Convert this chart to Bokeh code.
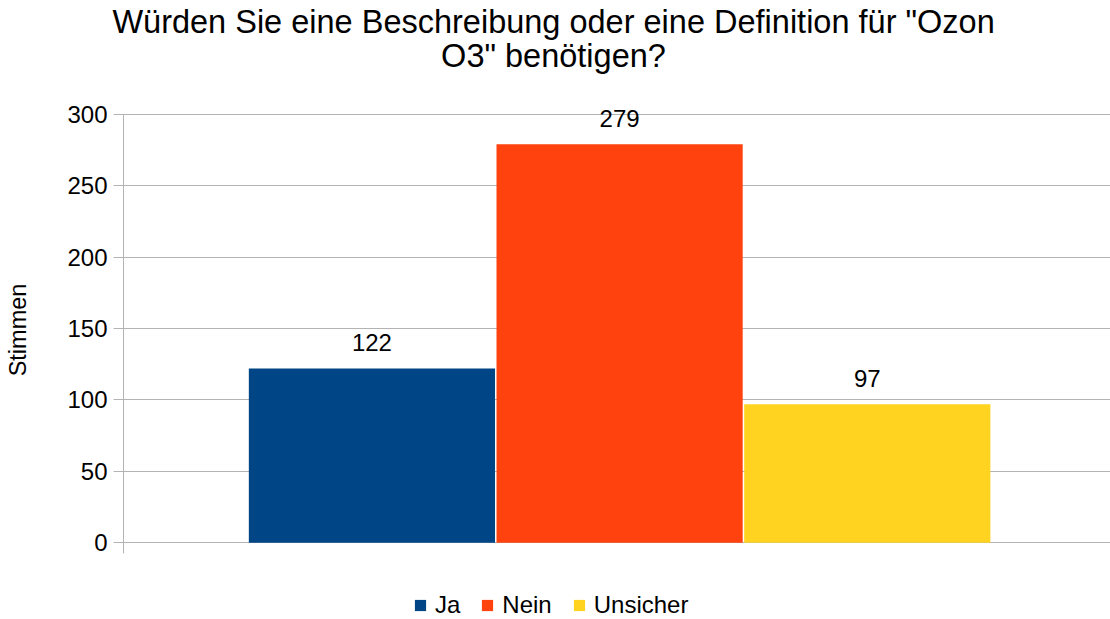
from bokeh.plotting import figure
from bokeh.models import (Range1d, FixedTicker, ColumnDataSource, LabelSet, Label, Title,
                          Legend, LegendItem)
from bokeh.core.properties import value
from bokeh.embed import file_html
from bokeh.resources import INLINE

# ---- data ----
title_lines = ['Würden Sie eine Beschreibung oder eine Definition für "Ozon', 'O3" benötigen?']
categories = ["Ja", "Nein", "Unsicher"]
votes = [122, 279, 97]
colors = ["#004586", "#ff420e", "#ffd320"]
y_ticks = [0, 50, 100, 150, 200, 250, 300]
y_label = "Stimmen"

FONT = "Liberation Sans"
GRID = "#b3b3b3"
Y_AXIS_MIN, Y_AXIS_MAX = -7.69, 300

W, H = 1110, 619
p = figure(width=W, height=H, output_backend="svg", toolbar_location=None,
           x_range=Range1d(-1.003, 2.982), y_range=Range1d(-53.85, 351.75),
           x_axis_location=None,
           min_border_left=123, min_border_right=0, min_border_top=39, min_border_bottom=0)
p.outline_line_color = None
p.background_fill_color = "white"
p.border_fill_color = "white"

src = ColumnDataSource(dict(
    x=list(range(len(categories))),
    top=votes,
    color=colors,
    cat=categories,
    label=[str(v) for v in votes],
))

r = p.vbar(x="x", top="top", bottom=0, width=0.994, source=src,
           fill_color="color", line_color=None)

# grid / axis
p.xgrid.visible = False
p.ygrid.ticker = FixedTicker(ticks=y_ticks)
p.ygrid.grid_line_color = GRID
p.ygrid.grid_line_width = 1

ax = p.yaxis[0]
ax.bounds = (Y_AXIS_MIN, Y_AXIS_MAX)
ax.ticker = FixedTicker(ticks=y_ticks)
ax.axis_line_color = GRID
ax.major_tick_line_color = GRID
ax.major_tick_out = 10
ax.major_tick_in = 0
ax.minor_tick_line_color = None
ax.major_label_text_font = FONT
ax.major_label_text_font_size = "24px"
ax.major_label_text_color = "#000000"
ax.major_label_standoff = 6
ax.axis_label = y_label
ax.axis_label_text_font = FONT
ax.axis_label_text_font_size = "23.5px"
ax.axis_label_text_font_style = "normal"
ax.axis_label_text_color = "#000000"
ax.axis_label_standoff = 33

# data labels
labels = LabelSet(x="x", y="top", text="label", source=src,
                  text_align="center", text_baseline="bottom", y_offset=17,
                  text_font=value(FONT), text_font_size=value("24px"),
                  text_color="#000000")
p.add_layout(labels)

# title: first line as a Title (extends left of the frame), second line as a Label
TITLE_SIZE = 32.5
line1_em = 27.145  # advance width (em) of line 1 in Liberation Sans
center_x = 553 - 123
t1 = Title(text=title_lines[0], align="left", offset=center_x - line1_em * TITLE_SIZE / 2,
           text_font=FONT, text_font_size=f"{TITLE_SIZE}px", text_font_style="normal",
           text_color="#000000", standoff=2)
p.add_layout(t1, "above")
p.add_layout(Label(x=center_x, y=H - 55, x_units="screen", y_units="screen",
                   text=title_lines[1], text_align="center", text_baseline="alphabetic",
                   text_font=FONT, text_font_size=f"{TITLE_SIZE}px", text_color="#000000"))

# legend (inside the lower part of the frame)
items = [LegendItem(label=c, renderers=[r], index=i) for i, c in enumerate(categories)]
lg = Legend(items=items, orientation="horizontal", location=(290, 0),
            margin=0, padding=0, spacing=20, label_standoff=8,
            glyph_width=14, glyph_height=14, border_line_color=None,
            background_fill_alpha=0, label_text_font=FONT,
            label_text_font_size="24px", label_text_color="#000000")
p.add_layout(lg, "center")

open("out.html", "w").write(file_html(p, INLINE))
